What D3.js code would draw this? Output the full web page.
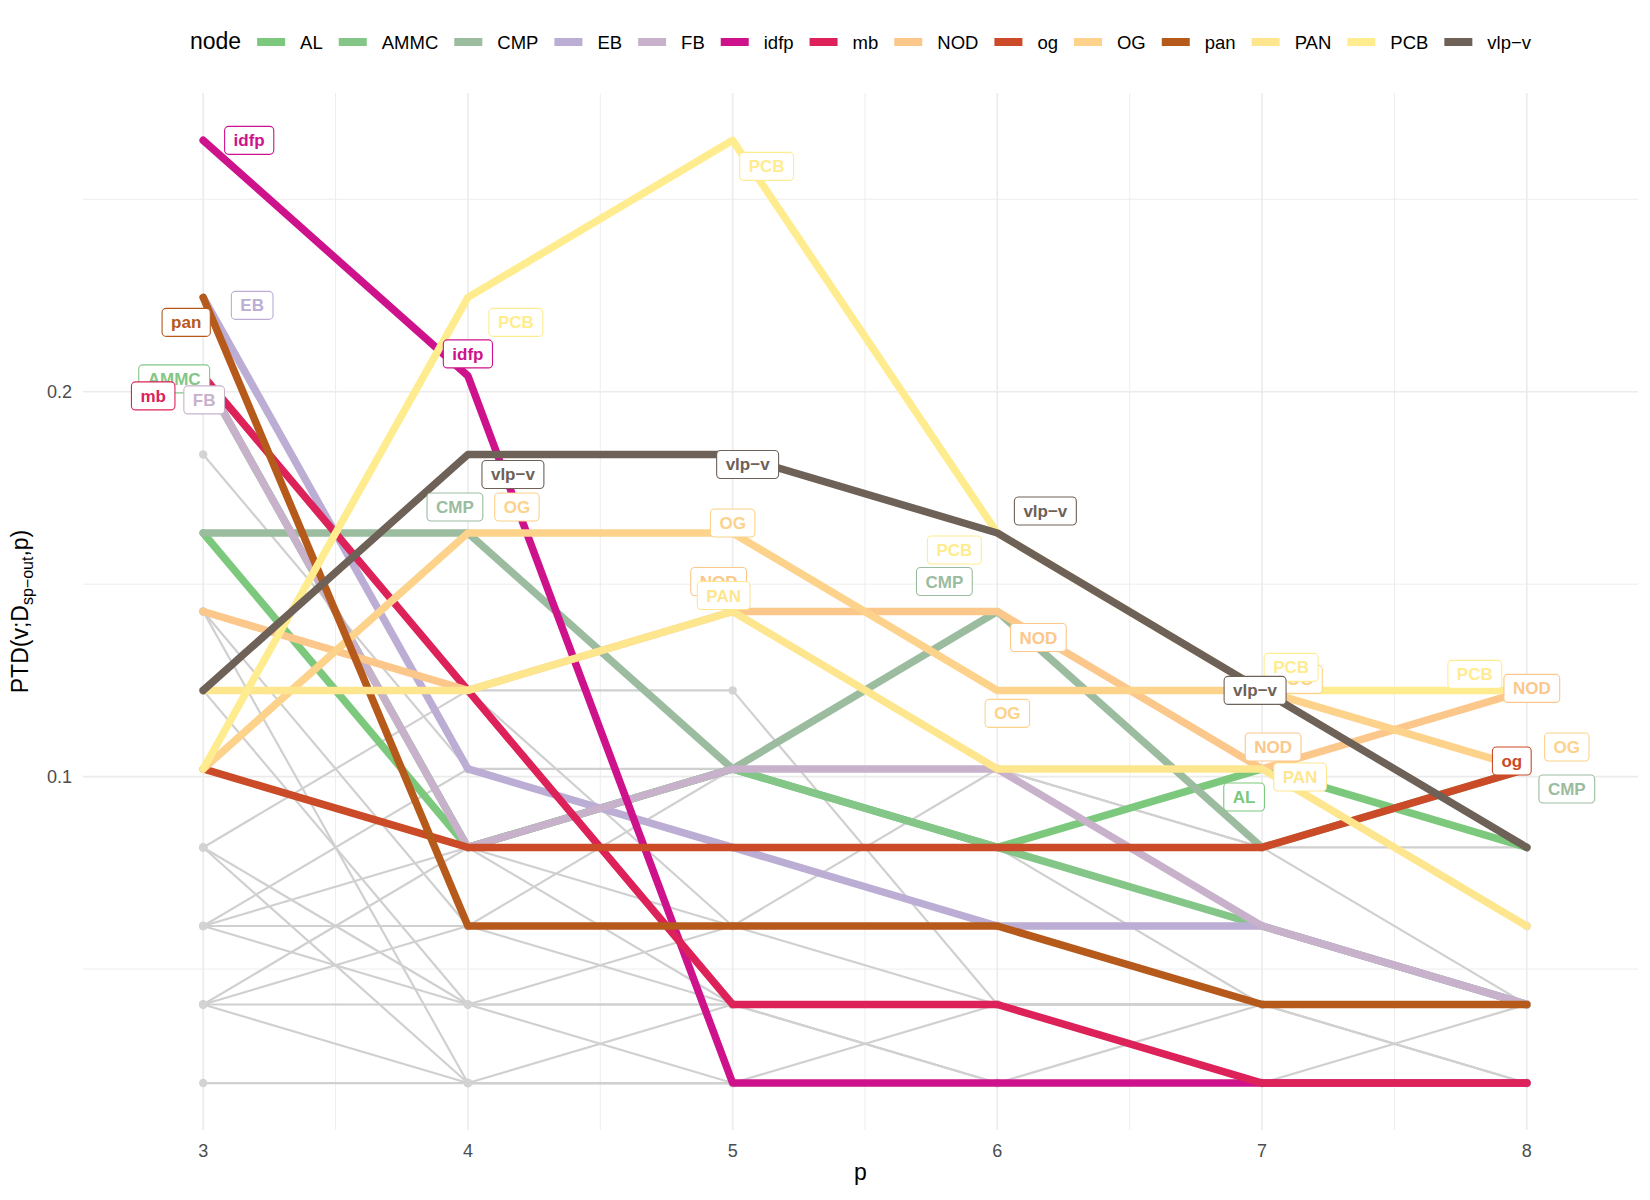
<!DOCTYPE html>
<html>
<head>
<meta charset="utf-8">
<script src="https://cdn.jsdelivr.net/npm/d3@7"></script>
<style>
    body { margin: 0; background: #fff; }
    svg text { font-family: "Liberation Sans", Arial, Helvetica, sans-serif; }
</style>
</head>
<body>
<script>
(function () {
//Values of p on the x axis
    var pValues = [3, 4, 5, 6, 7, 8];

//Highlighted nodes, in legend order
    var nodes = ["AL", "AMMC", "CMP", "EB", "FB", "idfp", "mb", "NOD", "og", "OG", "pan", "PAN", "PCB", "vlp-v"];

    var nodeColors = ["#7CC87D", "#83C687", "#9BBC9F", "#BBADD4", "#C8B2CB", "#CE128C", "#DC2259",
        "#FCC78B", "#CB4A27", "#FDD28A", "#B65A1C", "#FEE68F", "#FFEC8F", "#6E6157"];

//PTD values of each highlighted node for p = 3..8 (one row per node)
    var nodeValues = [
        [0.1633, 0.0816, 0.1020, 0.0816, 0.1020, 0.0816],
        [0.2041, 0.0816, 0.1020, 0.0816, 0.0612, 0.0408],
        [0.1633, 0.1633, 0.1020, 0.1429, 0.0816, 0.1020],
        [0.2245, 0.1020, 0.0816, 0.0612, 0.0612, 0.0408],
        [0.2041, 0.0816, 0.1020, 0.1020, 0.0612, 0.0408],
        [0.2653, 0.2041, 0.0204, 0.0204, 0.0204, 0.0204],
        [0.2041, 0.1224, 0.0408, 0.0408, 0.0204, 0.0204],
        [0.1429, 0.1224, 0.1429, 0.1429, 0.1020, 0.1224],
        [0.1020, 0.0816, 0.0816, 0.0816, 0.0816, 0.1020],
        [0.1020, 0.1633, 0.1633, 0.1224, 0.1224, 0.1020],
        [0.2245, 0.0612, 0.0612, 0.0612, 0.0408, 0.0408],
        [0.1224, 0.1224, 0.1429, 0.1020, 0.1020, 0.0612],
        [0.1020, 0.2245, 0.2653, 0.1633, 0.1224, 0.1224],
        [0.1224, 0.1837, 0.1837, 0.1633, 0.1224, 0.0816]
    ];

//PTD values of the other (grey) nodes
    var otherValues = [
        [0.1837, 0.1020, 0.1020, 0.1020, 0.0816, 0.0816],
        [0.1429, 0.0612, 0.1020, 0.1020, 0.0816, 0.0408],
        [0.1429, 0.0204, 0.0204, 0.0408, 0.0408, 0.0204],
        [0.1224, 0.0408, 0.0612, 0.1020, 0.1020, 0.0612],
        [0.0816, 0.0408, 0.0204, 0.0204, 0.0408, 0.0408],
        [0.0816, 0.0204, 0.0204, 0.0204, 0.0204, 0.0408],
        [0.0816, 0.1224, 0.1224, 0.0408, 0.0408, 0.0408],
        [0.0612, 0.0612, 0.0408, 0.0204, 0.0204, 0.0204],
        [0.0612, 0.0408, 0.0408, 0.0408, 0.0204, 0.0204],
        [0.0612, 0.1020, 0.0816, 0.0816, 0.0408, 0.0408],
        [0.0612, 0.0816, 0.0408, 0.0408, 0.0408, 0.0204],
        [0.0408, 0.0408, 0.0408, 0.0204, 0.0204, 0.0204],
        [0.0408, 0.0204, 0.0408, 0.0408, 0.0408, 0.0408],
        [0.0408, 0.0612, 0.0612, 0.0612, 0.0612, 0.0408],
        [0.0408, 0.0816, 0.0612, 0.0408, 0.0408, 0.0408],
        [0.0204, 0.0204, 0.0204, 0.0204, 0.0204, 0.0204],
        [0.1224, 0.1224, 0.0612, 0.0612, 0.0408, 0.0408]
    ];

//Axis breaks
    var yTicks = [0.1, 0.2],
        yMinorTicks = [0.05, 0.15, 0.25],
        xMinorTicks = [3.5, 4.5, 5.5, 6.5, 7.5];

//Label placement (pixel offsets from the point, like ggrepel did)
    var labelNudge = {
        "idfp@3": [46, 0], "EB@3": [49, 8], "pan@3": [-17, 25], "AMMC@3": [-29, 3], "mb@3": [-50, 20], "FB@3": [1, 24],
        "PCB@4": [48, 25], "idfp@4": [0, -22], "vlp-v@4": [45, 20], "CMP@4": [-13, -26], "OG@4": [49, -26],
        "PCB@5": [34, 26], "vlp-v@5": [15, 10], "OG@5": [0, -10], "NOD@5": [-14, -30], "PAN@5": [-9, -16],
        "vlp-v@6": [48, -22], "PCB@6": [-43, 17], "CMP@6": [-53, -30], "NOD@6": [41, 26], "OG@6": [10, 23],
        "PCB@7": [29, -23], "OG@7": [38, -11], "vlp-v@7": [-7, 0], "NOD@7": [11, -22], "PAN@7": [38, 8], "AL@7": [-18, 28],
        "PCB@8": [-52, -16], "NOD@8": [5, -2], "og@8": [-15, -8], "OG@8": [40, -22], "CMP@8": [40, 20]
    };

//Frame dimensions
    var width = 1650,
        height = 1200,
        panelLeft = 83,
        panelRight = 1638,
        panelTop = 93,
        panelBottom = 1130;

    var svg = d3.select("body")
        .append("svg")
        .attr("width", width)
        .attr("height", height);

    var xScale = d3.scaleLinear()
        .domain([2.546, 8.42])
        .range([panelLeft, panelRight]);

    var yScale = d3.scaleLinear()
        .domain([0.0082, 0.2776])
        .range([panelBottom, panelTop]);

    var line = d3.line()
        .x(function(d, i){ return xScale(pValues[i]); })
        .y(function(d){ return yScale(d); });

    function dash(name){
        return name.replace("-", "\u2212");
    }

//Grid lines
    var grid = svg.append("g").attr("class", "grid");

    grid.selectAll(".ymin")
        .data(yMinorTicks)
        .enter()
        .append("line")
        .attr("x1", panelLeft).attr("x2", panelRight)
        .attr("y1", function(d){ return yScale(d); })
        .attr("y2", function(d){ return yScale(d); })
        .attr("stroke", "#EBEBEB")
        .attr("stroke-width", 0.9);

    grid.selectAll(".xmin")
        .data(xMinorTicks)
        .enter()
        .append("line")
        .attr("y1", panelTop).attr("y2", panelBottom)
        .attr("x1", function(d){ return xScale(d); })
        .attr("x2", function(d){ return xScale(d); })
        .attr("stroke", "#EBEBEB")
        .attr("stroke-width", 0.9);

    grid.selectAll(".ymaj")
        .data(yTicks)
        .enter()
        .append("line")
        .attr("x1", panelLeft).attr("x2", panelRight)
        .attr("y1", function(d){ return yScale(d); })
        .attr("y2", function(d){ return yScale(d); })
        .attr("stroke", "#EBEBEB")
        .attr("stroke-width", 1.6);

    grid.selectAll(".xmaj")
        .data(pValues)
        .enter()
        .append("line")
        .attr("y1", panelTop).attr("y2", panelBottom)
        .attr("x1", function(d){ return xScale(d); })
        .attr("x2", function(d){ return xScale(d); })
        .attr("stroke", "#EBEBEB")
        .attr("stroke-width", 1.6);

//Grey lines and points of the other nodes
    svg.append("g")
        .selectAll("path")
        .data(otherValues)
        .enter()
        .append("path")
        .attr("d", line)
        .attr("fill", "none")
        .attr("stroke", "#D0D0D0")
        .attr("stroke-width", 2.2)
        .attr("stroke-linejoin", "round");

    var otherPoints = [];
    otherValues.forEach(function(row){
        row.forEach(function(v, i){
            otherPoints.push([pValues[i], v]);
        });
    });

    svg.append("g")
        .selectAll("circle")
        .data(otherPoints)
        .enter()
        .append("circle")
        .attr("cx", function(d){ return xScale(d[0]); })
        .attr("cy", function(d){ return yScale(d[1]); })
        .attr("r", 4.2)
        .attr("fill", "#D3D3D3");

//Highlighted node lines
    svg.append("g")
        .selectAll("path")
        .data(nodeValues)
        .enter()
        .append("path")
        .attr("d", line)
        .attr("fill", "none")
        .attr("stroke", function(d, i){ return nodeColors[i]; })
        .attr("stroke-width", 7.5)
        .attr("stroke-linejoin", "round")
        .attr("stroke-linecap", "round");

//Pick labels: the top five values at each p (ties kept)
    var labels = [];
    pValues.forEach(function(p, j){
        var col = nodeValues.map(function(row){ return row[j]; });
        var sorted = col.slice().sort(function(a, b){ return b - a; });
        var cut = sorted[4];
        nodes.forEach(function(n, i){
            if (col[i] >= cut - 1e-9){
                labels.push({node: n, color: nodeColors[i], p: p, value: col[i]});
            }
        });
    });

    var labelLayer = svg.append("g");
    labels.forEach(function(d){
        var nudge = labelNudge[d.node + "@" + d.p] || [0, 0];
        var cx = xScale(d.p) + nudge[0],
            cy = yScale(d.value) + nudge[1];
        var g = labelLayer.append("g");
        var rect = g.append("rect");
        var txt = g.append("text")
            .attr("x", cx)
            .attr("y", cy + 6)
            .attr("text-anchor", "middle")
            .attr("font-size", 17)
            .attr("font-weight", "bold")
            .attr("fill", d.color)
            .text(dash(d.node));
        var w = txt.node().getComputedTextLength() + 18;
        rect.attr("x", cx - w / 2)
            .attr("y", cy - 14)
            .attr("width", w)
            .attr("height", 28)
            .attr("rx", 4)
            .attr("fill", "#fff")
            .attr("stroke", d.color)
            .attr("stroke-width", 1.1);
    });

//Axis tick labels
    svg.append("g")
        .selectAll("text")
        .data(yTicks)
        .enter()
        .append("text")
        .attr("x", 72)
        .attr("y", function(d){ return yScale(d) + 6.5; })
        .attr("text-anchor", "end")
        .attr("font-size", 18)
        .attr("fill", "#4D4D4D")
        .text(function(d){ return d3.format(".1f")(d); });

    svg.append("g")
        .selectAll("text")
        .data(pValues)
        .enter()
        .append("text")
        .attr("x", function(d){ return xScale(d); })
        .attr("y", 1156.5)
        .attr("text-anchor", "middle")
        .attr("font-size", 18)
        .attr("fill", "#4D4D4D")
        .text(function(d){ return d; });

//Axis titles
    svg.append("text")
        .attr("x", (panelLeft + panelRight) / 2)
        .attr("y", 1180)
        .attr("text-anchor", "middle")
        .attr("font-size", 23)
        .attr("fill", "#000")
        .text("p");

    var yTitle = svg.append("text")
        .attr("transform", "translate(28," + ((panelTop + panelBottom) / 2) + ") rotate(-90)")
        .attr("text-anchor", "middle")
        .attr("font-size", 23)
        .attr("fill", "#000");
    yTitle.append("tspan").text("PTD(v;D");
    yTitle.append("tspan").attr("font-size", 16).attr("dy", 5).text("sp\u2212out");
    yTitle.append("tspan").attr("dy", -5).text(",p)");

//Legend along the top
    var legend = svg.append("g");
    var legendY = 42;
    var cursor = 0;
    var title = legend.append("text")
        .attr("x", 0)
        .attr("y", legendY + 7)
        .attr("font-size", 23)
        .text("node");
    cursor = title.node().getComputedTextLength() + 16;

    nodes.forEach(function(n, i){
        legend.append("line")
            .attr("x1", cursor).attr("x2", cursor + 28)
            .attr("y1", legendY).attr("y2", legendY)
            .attr("stroke", nodeColors[i])
            .attr("stroke-width", 8);
        var t = legend.append("text")
            .attr("x", cursor + 43)
            .attr("y", legendY + 6.5)
            .attr("font-size", 18.5)
            .text(dash(n));
        cursor = cursor + 43 + t.node().getComputedTextLength() + 16;
    });
    cursor = cursor - 16;
    legend.attr("transform", "translate(" + ((panelLeft + panelRight) / 2 - cursor / 2) + ",0)");
})();
</script>
</body>
</html>
